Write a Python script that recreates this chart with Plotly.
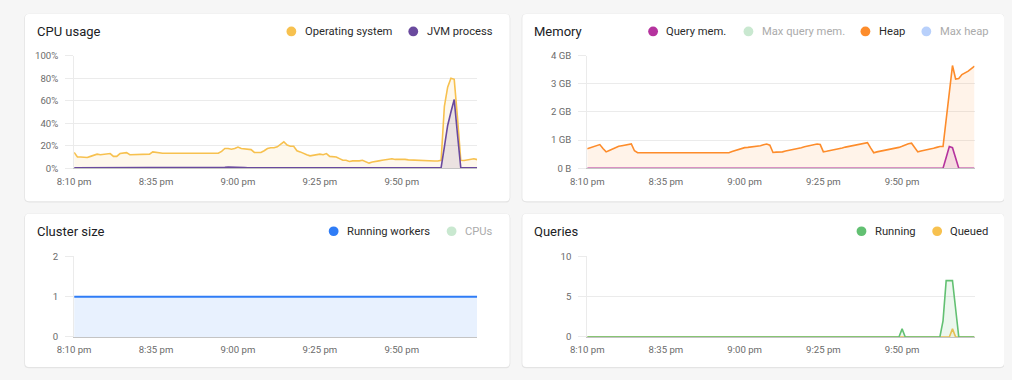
import pandas as pd
import plotly.graph_objects as go

# ---------------- data ----------------
start = "2024-05-14 20:10"
n_points = 124
tick_vals = ["2024-05-14 20:10", "2024-05-14 20:35", "2024-05-14 21:00",
             "2024-05-14 21:25", "2024-05-14 21:50"]
tick_text = ["8:10 pm", "8:35 pm", "9:00 pm", "9:25 pm", "9:50 pm"]

cpu_os = [
    14, 10, 10, 9.5, 9.5, 10.5, 11.5, 12.5, 12, 12.5,
    13, 13, 10.5, 10.5, 13, 13.5, 13.8, 12, 12, 12,
    12, 12, 12, 12.5, 14.5, 14, 13.3, 13.3, 13.3, 13.3,
    13.3, 13.3, 13.3, 13.3, 13.3, 13.3, 13.3, 13.3, 13.3, 13.3,
    13.3, 13.3, 13.3, 13.3, 13.3, 15, 17.5, 17.5, 16.8, 17.5,
    18.8, 17.5, 17, 17, 16.5, 14, 14, 14, 15.5, 17.5,
    18.2, 18.2, 19, 21, 23.5, 20.5, 19.5, 19.5, 15.5, 14.5,
    13, 12, 11, 11.5, 12.3, 12.5, 12, 13, 10.5, 10.5,
    10, 8.5, 7, 7, 6, 6.5, 6.3, 6.5, 7, 6,
    4.5, 5.5, 6.3, 6.5, 7, 7.5, 8.2, 8.4, 7.8, 8,
    8, 7.8, 7.4, 7.2, 7.2, 7, 6.8, 6.6, 6.6, 6.5,
    6.4, 6.4, 7, 55, 72, 80, 79, 45, 7, 6.8,
    7.2, 8, 8.4, 7.6,
]
cpu_jvm = [
    0.4, 0.4, 0.4, 0.4, 0.4, 0.4, 0.4, 0.4, 0.4, 0.4,
    0.4, 0.4, 0.4, 0.4, 0.4, 0.4, 0.4, 0.4, 0.4, 0.4,
    0.4, 0.4, 0.4, 0.4, 0.4, 0.4, 0.4, 0.4, 0.4, 0.4,
    0.4, 0.4, 0.4, 0.4, 0.4, 0.4, 0.4, 0.4, 0.4, 0.4,
    0.4, 0.4, 0.4, 0.4, 0.4, 0.4, 0.9, 1.1, 1.1, 1.0,
    1.0, 0.8, 0.5, 0.4, 0.4, 0.4, 0.5, 0.8, 0.9, 0.9,
    0.8, 0.8, 0.5, 0.4, 0.4, 0.4, 0.4, 0.4, 0.4, 0.4,
    0.4, 0.4, 0.4, 0.4, 0.4, 0.4, 0.4, 0.4, 0.4, 0.4,
    0.4, 0.4, 0.4, 0.4, 0.4, 0.4, 0.4, 0.4, 0.4, 0.4,
    0.4, 0.4, 0.4, 0.4, 0.4, 0.4, 0.4, 0.4, 0.4, 0.4,
    0.4, 0.4, 0.4, 0.4, 0.4, 0.4, 0.4, 0.4, 0.4, 0.4,
    0.4, 0.4, 0.4, 19, 38, 50, 61, 30, 0.4, 0.4,
    0.4, 0.4, 0.4, 0.4,
]
heap_gb = [
    0.69, 0.73, 0.76, 0.80, 0.84, 0.70, 0.58, 0.63, 0.68, 0.73,
    0.78, 0.80, 0.82, 0.84, 0.86, 0.62, 0.55, 0.55, 0.55, 0.55,
    0.55, 0.55, 0.55, 0.55, 0.55, 0.55, 0.55, 0.55, 0.55, 0.55,
    0.55, 0.55, 0.55, 0.55, 0.55, 0.55, 0.55, 0.55, 0.55, 0.55,
    0.55, 0.55, 0.55, 0.55, 0.55, 0.55, 0.59, 0.63, 0.67, 0.71,
    0.73, 0.74, 0.75, 0.76, 0.77, 0.80, 0.83, 0.86, 0.82, 0.56,
    0.57, 0.57, 0.58, 0.61, 0.63, 0.65, 0.68, 0.70, 0.73, 0.76,
    0.78, 0.81, 0.83, 0.86, 0.84, 0.58, 0.60, 0.62, 0.65, 0.67,
    0.70, 0.72, 0.75, 0.77, 0.80, 0.82, 0.85, 0.87, 0.89, 0.91,
    0.72, 0.55, 0.58, 0.60, 0.62, 0.65, 0.67, 0.70, 0.72, 0.74,
    0.78, 0.83, 0.87, 0.89, 0.72, 0.58, 0.61, 0.63, 0.66, 0.68,
    0.71, 0.74, 0.77, 0.77, 1.75, 2.89, 3.65, 3.17, 3.19, 3.33,
    3.38, 3.45, 3.54, 3.63,
]
query_mem_gb = [0.0] * 114 + [0.38, 0.77, 0.73, 0.36, 0.0, 0.0, 0.0, 0.0, 0.0, 0.0]
running_workers = [1] * n_points
queries_running = ([0] * 100 + [1] + [0] * 12 + [2, 7, 7, 7, 3.5, 0, 0, 0, 0, 0, 0])
queries_queued = [0] * 116 + [1] + [0] * 7

cpu_ticks = [0, 20, 40, 60, 80, 100]
cpu_tick_text = ["0%", "20%", "40%", "60%", "80%", "100%"]
mem_ticks = [0, 1, 2, 3, 4]
mem_tick_text = ["0 B", "1 GB", "2 GB", "3 GB", "4 GB"]

# ---------------- styling ----------------
PAGE_W, PAGE_H, BODY_M = 1012, 380, 8
W, H = PAGE_W - 2 * BODY_M, PAGE_H - 2 * BODY_M   # figure sits inside the default body margin
FONT = "Roboto"
BG = "#f6f6f6"
GRID = "#ebebeb"
TICK_C = "#6b6b6b"

C_OS, C_JVM = "#f7c14f", "#6a4a9e"
C_QMEM, C_HEAP = "#b5339e", "#fd8c2b"
C_WORK = "#2f7cf6"
C_RUN, C_QUE = "#62c072", "#f7c14f"
FADE_GREEN, FADE_BLUE = "#c9e8d0", "#b8d0fb"


def fx(x):
    """page pixel x -> paper fraction"""
    return (x - BODY_M) / W


def fy(y):
    """page pixel y -> paper fraction"""
    return 1 - (y - BODY_M) / H


times = pd.date_range(start, periods=n_points, freq="min")
x_range = [times[0], times[-1]]

fig = go.Figure()


def area(y, color, fill, ax, width=1.6):
    fig.add_trace(go.Scatter(
        x=times, y=y, mode="lines", line=dict(color=color, width=width),
        fill="tozeroy", fillcolor=fill, xaxis="x" + ax, yaxis="y" + ax,
        showlegend=False, hoverinfo="skip"))


area(cpu_os, C_OS, "rgba(247,193,79,0.11)", "")
area(cpu_jvm, C_JVM, "rgba(106,74,158,0.13)", "")
area(heap_gb, C_HEAP, "rgba(253,140,43,0.10)", "2")
area(query_mem_gb, C_QMEM, "rgba(181,51,158,0.12)", "2")
area(running_workers, C_WORK, "rgba(47,124,246,0.11)", "3", width=2)
area(queries_queued, C_QUE, "rgba(247,193,79,0.12)", "4")
area(queries_running, C_RUN, "rgba(98,192,114,0.12)", "4")

panels = {
    "": dict(x=(58, 468), y=(51, 167), rng=[0, 100], tv=cpu_ticks, tt=cpu_tick_text),
    "2": dict(x=(580, 974), y=(51, 167), rng=[0, 4], tv=mem_ticks, tt=mem_tick_text),
    "3": dict(x=(58, 468), y=(258, 341), rng=[0, 2], tv=[0, 1, 2], tt=["0", "1", "2"]),
    "4": dict(x=(580, 974), y=(258, 341), rng=[0, 10], tv=[0, 5, 10], tt=["0", "5", "10"]),
}
layout_axes = {}
for k, p in panels.items():
    layout_axes["xaxis" + k] = dict(
        domain=[fx(p["x"][0]), fx(p["x"][1])], anchor="y" + k, type="date",
        range=x_range, tickvals=tick_vals, ticktext=tick_text, showgrid=False,
        showline=True, linecolor="#c4c4c4", linewidth=1, ticks="", zeroline=False,
        tickfont=dict(family=FONT, size=9.6, color=TICK_C), ticklabelstandoff=4,
        fixedrange=True)
    layout_axes["yaxis" + k] = dict(
        domain=[fy(p["y"][1]), fy(p["y"][0])], anchor="x" + k, range=p["rng"],
        tickvals=p["tv"], ticktext=p["tt"], showgrid=True, gridcolor=GRID,
        gridwidth=1, showline=True, linecolor=GRID, ticks="outside", ticklen=8,
        tickcolor=GRID, zeroline=False, ticklabelstandoff=5,
        tickfont=dict(family=FONT, size=9.6, color=TICK_C), fixedrange=True)


def rrect_path(x0, y0, x1, y1, r):
    X0, X1 = fx(x0), fx(x1)
    Y0, Y1 = fy(y0), fy(y1)
    rx, ry = r / W, r / H
    return (f"M{X0 + rx},{Y0} L{X1 - rx},{Y0} Q{X1},{Y0} {X1},{Y0 - ry} "
            f"L{X1},{Y1 + ry} Q{X1},{Y1} {X1 - rx},{Y1} L{X0 + rx},{Y1} "
            f"Q{X0},{Y1} {X0},{Y1 + ry} L{X0},{Y0 - ry} Q{X0},{Y0} {X0 + rx},{Y0} Z")


cards = [(8, 8, 501, 201), (514, 8, 1004, 201), (8, 214, 501, 372), (514, 214, 1004, 372)]
shapes = []
for (x0, y0, x1, y1) in cards:
    shapes.append(dict(type="path", path=rrect_path(x0 - 0.8, y0 - 0.3, x1 + 0.8, y1 + 1.3, 5),
                       xref="paper", yref="paper", fillcolor="rgba(0,0,0,0.07)",
                       line=dict(width=0), layer="below"))
    shapes.append(dict(type="path", path=rrect_path(x0, y0, x1, y1, 4),
                       xref="paper", yref="paper", fillcolor="#ffffff",
                       line=dict(width=0), layer="below"))

annotations = []
titles = [("CPU usage", 18, 26), ("Memory", 524, 26), ("Cluster size", 18, 232), ("Queries", 524, 232)]
for t, x, y in titles:
    annotations.append(dict(text=t, x=fx(x), y=fy(y), xref="paper", yref="paper",
                            xanchor="left", yanchor="middle", showarrow=False,
                            font=dict(family=FONT, size=13, color="#202124")))

legends = [
    (26, [("Operating system", C_OS, 279, False), ("JVM process", C_JVM, 403, False)]),
    (26, [("Query mem.", C_QMEM, 647, False), ("Max query mem.", FADE_GREEN, 744, True),
          ("Heap", C_HEAP, 863, False), ("Max heap", FADE_BLUE, 925, True)]),
    (232, [("Running workers", C_WORK, 322, False), ("CPUs", FADE_GREEN, 442, True)]),
    (232, [("Running", C_RUN, 859, False), ("Queued", C_QUE, 936, False)]),
]
for y, items in legends:
    for label, color, cx, faded in items:
        r = 5
        shapes.append(dict(type="circle", xref="paper", yref="paper",
                           x0=fx(cx - r), x1=fx(cx + r), y0=fy(y + r), y1=fy(y - r),
                           fillcolor=color, line=dict(width=0)))
        annotations.append(dict(text=label, x=fx(cx + 11.5), y=fy(y), xref="paper",
                                yref="paper", xanchor="left", yanchor="middle",
                                showarrow=False,
                                font=dict(family=FONT, size=11.2,
                                          color="#ababab" if faded else "#2b2b2b")))

fig.update_layout(
    width=W, height=H, margin=dict(l=0, r=0, t=0, b=0),
    paper_bgcolor=BG, plot_bgcolor="rgba(0,0,0,0)",
    showlegend=False, shapes=shapes, annotations=annotations, **layout_axes)

fig.write_html("out.html", config={"displayModeBar": False},
               post_script="document.body.style.background='%s';"
                           "document.documentElement.style.background='%s';" % (BG, BG))
